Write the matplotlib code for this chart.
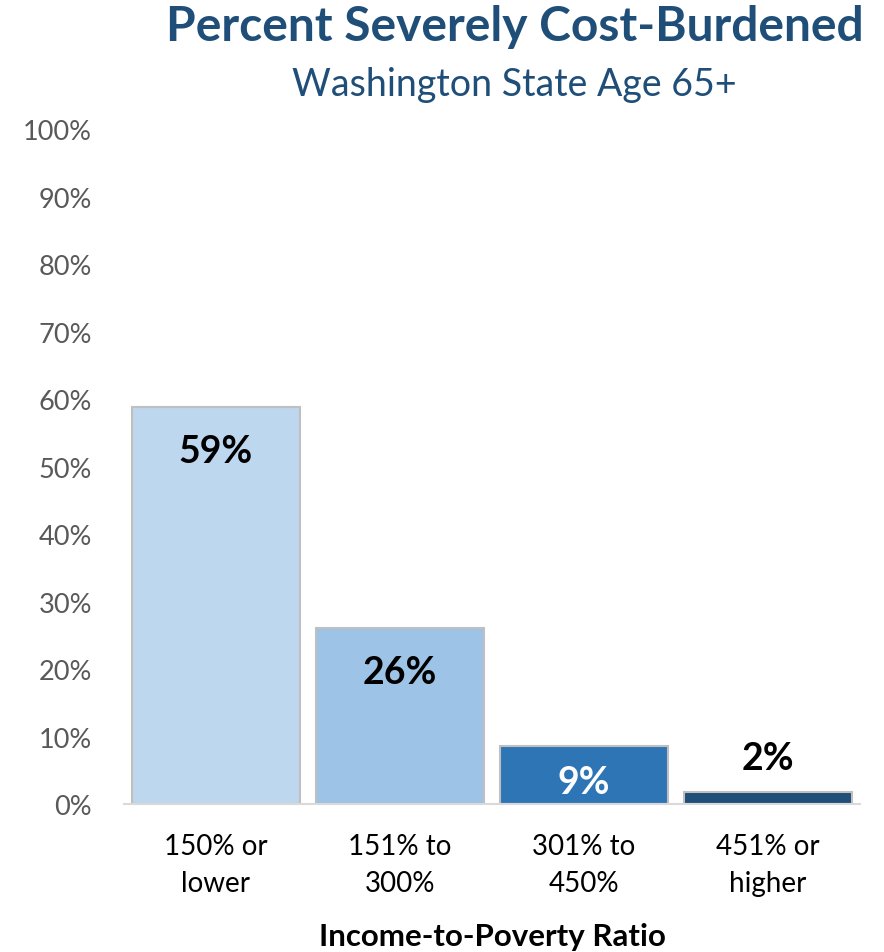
import matplotlib.pyplot as plt
import numpy as np

plt.rcParams['font.family'] = ['Lato', 'DejaVu Sans']

categories = ['150% or\nlower', '151% to\n300%', '301% to\n450%', '451% or\nhigher']
values = [58.8, 26.1, 8.6, 1.8]
labels = ['59%', '26%', '9%', '2%']
colors = ['#BDD7EE', '#9DC3E6', '#2E75B6', '#1F4E79']
label_colors = ['black', 'black', 'white', 'black']
yticks = np.arange(0, 101, 10)

fig = plt.figure(figsize=(8.84, 9.53), dpi=100)
ax = fig.add_axes([0.140, 0.1553, 0.833, 0.708])

x = np.arange(len(categories))
ax.bar(x, values, width=0.91, color=colors, edgecolor='#BFBFBF', linewidth=1.5)

for i, v in enumerate(values):
    if v > 20:
        dy = -44
    elif v > 5:
        dy = -36
    else:
        dy = 34
    ax.annotate(labels[i], (x[i], v), xytext=(0, dy), textcoords='offset pixels',
                ha='center', va='center', fontsize=27, fontweight='bold', color=label_colors[i])

ax.set_xlim(-0.5, 3.5)
ax.set_ylim(0, 100)
ax.set_yticks(yticks)
ax.set_yticklabels([f'{t}%' for t in yticks], fontsize=19.5, color='#595959')
ax.set_xticks(x)
ax.set_xticklabels(categories, fontsize=20, color='black', linespacing=1.5)
ax.tick_params(axis='both', length=0)
ax.tick_params(axis='x', pad=21)
ax.tick_params(axis='y', pad=23)

for s in ['top', 'right', 'left']:
    ax.spines[s].set_visible(False)
ax.spines['bottom'].set_color('#D9D9D9')
ax.spines['bottom'].set_linewidth(1.5)

ax.set_xlabel('Income-to-Poverty Ratio', fontsize=22.5, fontweight='bold', va='center')
ax.xaxis.set_label_coords(0.5, -0.1956)

fig.text(0.582, 0.9717, 'Percent Severely Cost-Burdened', ha='center', va='center',
         fontsize=34.5, fontweight='bold', color='#1F4E79')
fig.text(0.582, 0.911, 'Washington State Age 65+', ha='center', va='center',
         fontsize=27, color='#1F4E79')

fig.savefig('out.png', dpi=100)
